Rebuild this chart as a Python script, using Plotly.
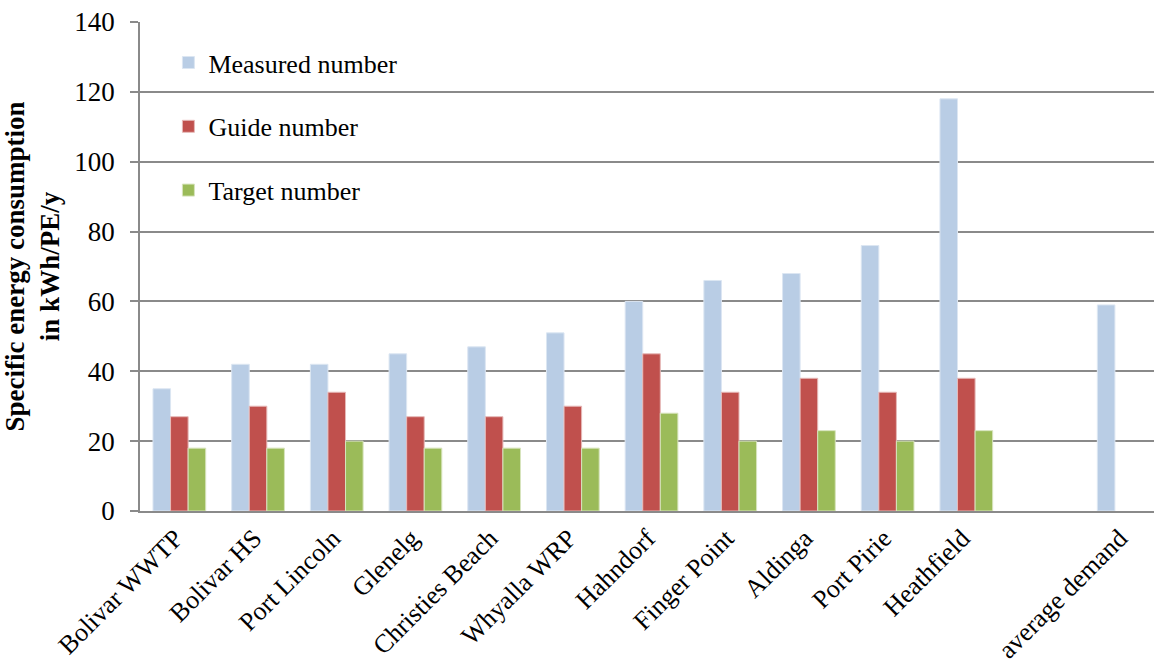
import plotly.graph_objects as go

# Treatment plants, with an empty slot before the average
sites = ["Bolivar WWTP", "Bolivar HS", "Port Lincoln", "Glenelg", "Christies Beach",
         "Whyalla WRP", "Hahndorf", "Finger Point", "Aldinga", "Port Pirie",
         "Heathfield", " ", "average demand"]

# Specific energy consumption in kWh/PE/y
measured = [35, 42, 42, 45, 47, 51, 60, 66, 68, 76, 118, None, 59]
guide = [27, 30, 34, 27, 27, 30, 45, 34, 38, 34, 38, None, None]
target = [18, 18, 20, 18, 18, 18, 28, 20, 23, 20, 23, None, None]

y_ticks = [0, 20, 40, 60, 80, 100, 120, 140]

FONT = "Liberation Serif, Times New Roman, serif"
GRID = "#8a8a8a"

series = [
    ("Measured number", measured, "#B9CDE5", "#DCE6F2"),
    ("Guide number", guide, "#C0504D", "#E6B9B8"),
    ("Target number", target, "#9BBB59", "#D7E4BD"),
]

fig = go.Figure()
for name, vals, fill, edge in series:
    fig.add_trace(go.Bar(
        x=sites, y=vals, name=name, legendgroup=name,
        marker=dict(color=fill, line=dict(color=edge, width=1)),
    ))

fig.update_layout(
    width=1154, height=672,
    margin=dict(l=140, r=0, t=22, b=161),
    paper_bgcolor="white", plot_bgcolor="white",
    barmode="group", bargap=0.33, bargroupgap=0,
    font=dict(family=FONT, size=27, color="black"),
    legend=dict(
        x=0.028, y=0.965, xanchor="left", yanchor="top",
        bgcolor="rgba(0,0,0,0)", font=dict(size=26),
        tracegroupgap=27, traceorder="grouped",
    ),
    xaxis=dict(
        type="category", range=[-0.5, 12.385], automargin=False,
        tickangle=-45, showgrid=False, ticks="",
        showline=True, linecolor=GRID, linewidth=1.5,
        tickfont=dict(size=26), ticklabelstandoff=0, ticklabelshift=-4,
    ),
    yaxis=dict(
        range=[0, 140], tickvals=y_ticks, automargin=False,
        showgrid=True, gridcolor=GRID, gridwidth=1.5,
        showline=True, linecolor=GRID, linewidth=1.5,
        ticks="outside", ticklen=8, tickcolor=GRID, tickwidth=1.5,
        ticklabelstandoff=10, zeroline=False,
        tickfont=dict(size=27),
        title=dict(
            text="<b>Specific energy consumption<br>in kWh/PE/y</b>",
            font=dict(size=27), standoff=11,
        ),
    ),
)

fig.write_html("out.html")
